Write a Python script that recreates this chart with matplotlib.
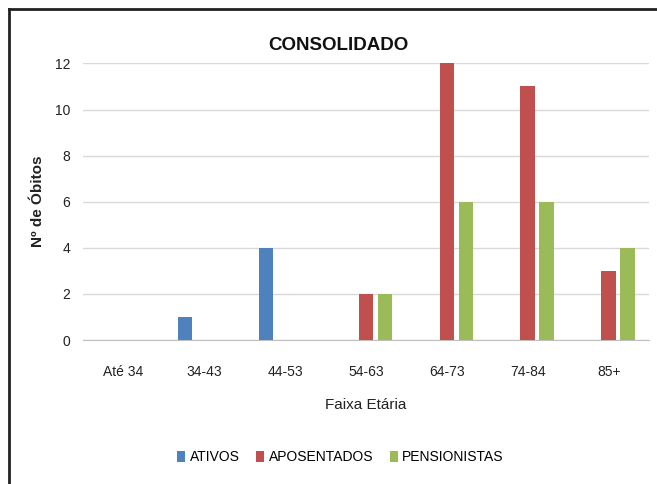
import numpy as np
import matplotlib.pyplot as plt
from matplotlib.lines import Line2D

faixas = ['Até 34', '34-43', '44-53', '54-63', '64-73', '74-84', '85+']
ativos = [0, 1, 4, 0, 0, 0, 0]
aposentados = [0, 0, 0, 2, 12, 11, 3]
pensionistas = [0, 0, 0, 2, 6, 6, 4]

series = [('ATIVOS', ativos, '#4F81BD'),
          ('APOSENTADOS', aposentados, '#C0504D'),
          ('PENSIONISTAS', pensionistas, '#9BBB59')]

plt.rcParams['font.family'] = ['Liberation Sans', 'DejaVu Sans']

fig = plt.figure(figsize=(6.57, 4.84), dpi=100)
ax = fig.add_axes([0.126, 0.2975, 0.862, 0.5715])

x = np.arange(len(faixas))
width = 0.18
offset = 0.235
for i, (name, vals, color) in enumerate(series):
    ax.bar(x + (i - 1) * offset, vals, width, color=color, label=name, zorder=3)

ax.set_xlim(-0.5, len(faixas) - 0.5)
ax.set_ylim(0, 12)
ax.set_yticks(range(0, 13, 2))
ax.set_xticks(x)
ax.set_xticklabels(faixas)
ax.tick_params(length=0, labelsize=10, colors='#222222')
ax.tick_params(axis='y', pad=9)
ax.tick_params(axis='x', pad=18)
ax.grid(axis='y', color='#D9D9D9', linewidth=1, zorder=0)
for s in ['top', 'right', 'left']:
    ax.spines[s].set_visible(False)
ax.spines['bottom'].set_color('#BFBFBF')

fig.text(0.515, 0.905, 'CONSOLIDADO', fontsize=13.5, fontweight='bold',
         ha='center', va='center', color='#111111')
ax.set_ylabel('Nº de Óbitos', fontsize=11, fontweight='bold', labelpad=7, color='#222222')
ax.set_xlabel('Faixa Etária', fontsize=11, labelpad=14, color='#222222')

fig.legend(loc='center', bbox_to_anchor=(0.518, 0.055), ncol=3, frameon=False,
           fontsize=10, handlelength=0.6, handleheight=0.9, handletextpad=0.3,
           columnspacing=1.2)

# moldura
fig.add_artist(Line2D([0.014, 1.0], [0.981, 0.981], color='#222222', linewidth=2,
                      transform=fig.transFigure))
fig.add_artist(Line2D([0.014, 0.014], [0.0, 0.981], color='#222222', linewidth=2,
                      transform=fig.transFigure))

fig.savefig('out.png', dpi=100)
